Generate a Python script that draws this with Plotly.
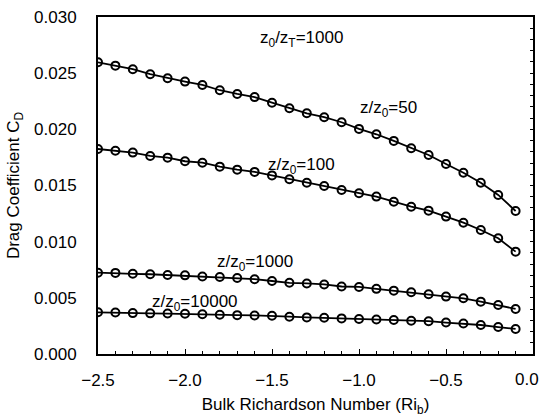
import plotly.graph_objects as go

# Bulk Richardson number grid (-2.5 … -0.1, step 0.1)
ri_b = [-2.5, -2.4, -2.3, -2.2, -2.1, -2.0, -1.9, -1.8, -1.7, -1.6, -1.5, -1.4, -1.3,
        -1.2, -1.1, -1.0, -0.9, -0.8, -0.7, -0.6, -0.5, -0.4, -0.3, -0.2, -0.1]

# Drag coefficient C_D for each roughness ratio z/z0 (z0/zT = 1000)
cd_z50 = [0.02597, 0.02567, 0.02535, 0.02491, 0.02455, 0.02425, 0.02395, 0.02348, 0.02315,
          0.02287, 0.02237, 0.02188, 0.02143, 0.02108, 0.02063, 0.02004, 0.01956, 0.01897,
          0.01832, 0.01772, 0.01692, 0.01614, 0.01525, 0.01416, 0.01273]
cd_z100 = [0.01825, 0.01810, 0.01793, 0.01763, 0.01748, 0.01716, 0.01703, 0.01668, 0.01641,
           0.01621, 0.01590, 0.01556, 0.01525, 0.01496, 0.01460, 0.01431, 0.01401, 0.01356,
           0.01311, 0.01276, 0.01223, 0.01169, 0.01104, 0.01030, 0.00911]
cd_z1000 = [0.00724, 0.00722, 0.00714, 0.00710, 0.00703, 0.00700, 0.00690, 0.00686, 0.00676,
            0.00666, 0.00650, 0.00634, 0.00628, 0.00619, 0.00601, 0.00597, 0.00580, 0.00564,
            0.00549, 0.00532, 0.00511, 0.00496, 0.00466, 0.00436, 0.00401]
cd_z10000 = [0.00371, 0.00370, 0.00364, 0.00362, 0.00360, 0.00358, 0.00354, 0.00349, 0.00346,
             0.00343, 0.00340, 0.00332, 0.00326, 0.00322, 0.00317, 0.00311, 0.00307, 0.00303,
             0.00296, 0.00292, 0.00280, 0.00272, 0.00258, 0.00240, 0.00223]

series = [cd_z50, cd_z100, cd_z1000, cd_z10000]

curve_labels = [
    ("z/z<sub>0</sub>=50", -0.83, 0.0218),
    ("z/z<sub>0</sub>=100", -1.33, 0.0167),
    ("z/z<sub>0</sub>=1000", -1.60, 0.0081),
    ("z/z<sub>0</sub>=10000", -1.94, 0.00455),
]
title_label = ("z<sub>0</sub>/z<sub>T</sub>=1000", -1.33, 0.0280)

x_ticks = [-2.5, -2.0, -1.5, -1.0, -0.5, 0.0]
x_tick_text = ["\u22122.5", "\u22122.0", "\u22121.5", "\u22121.0", "\u22120.5", "0.0"]
y_ticks = [0.000, 0.005, 0.010, 0.015, 0.020, 0.025, 0.030]

FONT = "Liberation Sans, Arial, sans-serif"
FS = 17

fig = go.Figure()
for ys in series:
    fig.add_trace(go.Scatter(
        x=ri_b, y=ys, mode="lines+markers",
        line=dict(color="black", width=1.8),
        marker=dict(symbol="circle-open", size=8, color="black",
                    line=dict(width=2, color="black")),
        showlegend=False, hoverinfo="x+y",
    ))

# invisible trace carrying the right-hand tick axis
fig.add_trace(go.Scatter(x=[ri_b[0]], y=[0], yaxis="y2", mode="markers",
                         marker=dict(opacity=0), showlegend=False, hoverinfo="skip"))

for text, x, y in curve_labels + [title_label]:
    fig.add_annotation(x=x, y=y, text=text, showarrow=False,
                       font=dict(family=FONT, size=FS, color="black"))

# the last x tick label sits flush against the right edge, so it is
# drawn right-aligned under its tick instead of centred
fig.add_annotation(x=x_ticks[-1], xref="x", y=0, yref="paper",
                   xanchor="right", yanchor="top", xshift=8, yshift=-14,
                   text=x_tick_text[-1], showarrow=False,
                   font=dict(family=FONT, size=FS, color="black"))

fig.update_layout(
    width=542, height=417,
    margin=dict(l=98, r=9, t=17, b=63),
    paper_bgcolor="white", plot_bgcolor="white",
    font=dict(family=FONT, size=FS, color="black"),
    xaxis=dict(
        range=[-2.5, 0.0], tickvals=x_ticks, ticktext=x_tick_text[:-1] + [""],
        ticks="inside", ticklen=5, tickwidth=1, tickcolor="black",
        minor=dict(dtick=0.1, ticks="inside", ticklen=3, tickcolor="black"),
        showline=True, linecolor="black", linewidth=1.5, mirror=True,
        showgrid=False, zeroline=False, ticklabelstandoff=10, automargin=False,
        title=dict(text="Bulk Richardson Number (Ri<sub>b</sub>)", standoff=9,
                   font=dict(size=FS)),
        tickfont=dict(size=FS),
    ),
    yaxis=dict(
        range=[0, 0.030], tickvals=y_ticks, tickformat=".3f",
        ticks="", showline=True, linecolor="black", linewidth=2, mirror=True,
        showgrid=False, zeroline=False, ticklabelstandoff=16, automargin=False,
        title=dict(text="Drag Coefficient C<sub>D</sub>", standoff=10,
                   font=dict(size=FS)),
        tickfont=dict(size=FS),
    ),
    yaxis2=dict(
        overlaying="y", side="right", range=[0, 0.030], dtick=0.001,
        showticklabels=False, ticks="inside", ticklen=3, tickcolor="black",
        showline=False, showgrid=False, zeroline=False, automargin=False,
    ),
)

fig.write_html("out.html")
